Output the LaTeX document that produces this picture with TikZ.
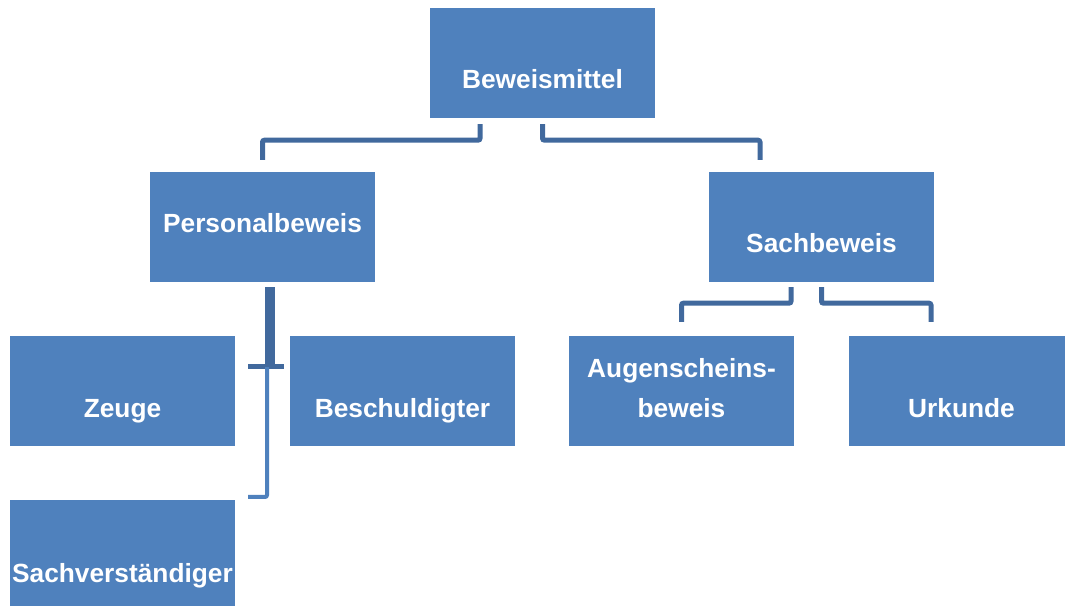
\documentclass[tikz,border=0pt]{standalone}
\usepackage{fontspec}
\setmainfont{Liberation Sans}
\definecolor{boxblue}{HTML}{4F81BD}
\definecolor{lineblue}{HTML}{41699D}

\begin{document}
\begin{tikzpicture}[
        x=1pt, y=1pt,
        every node/.style={fill=boxblue, text=white, font=\fontsize{26.3}{40}\selectfont\bfseries,
            minimum width=225pt, inner sep=0pt, align=center},
        low/.style={text height=82pt, text depth=28pt},
        link/.style={draw=lineblue, line width=5pt, rounded corners=2pt},
    ]
    \useasboundingbox (0,0) rectangle (1065,605);
    \clip (0,0) rectangle (1065,605);
    \node[text height=81pt, text depth=29pt](mittel) at (542.5,542) {Beweismittel};
    \node[text height=61pt, text depth=49pt](personal) at (262.5,378) {Personalbeweis};
    \node[text height=81pt, text depth=29pt](sach) at (821.5,378) {Sachbeweis};
    \node[low](zeuge) at (122.5,214) {Zeuge};
    \node[low](beschuldigter) at (402.5,214) {Beschuldigter};
    \node[low](augenschein) at (681.5,214) {Augenscheins-\\beweis};
    \node[low](urkunde) at (961.5,214) {Urkunde};
    \node[low](sachverst) at (122.5,50) {Sachverständiger};
    % first level
    \draw[link] ([xshift=-62.5pt,yshift=-6pt]mittel.south) -- ++(0,-16) -| ([yshift=12pt]personal.north);
    \draw[link] ([yshift=-6pt]mittel.south) -- ++(0,-16) -| ([xshift=-61.5pt,yshift=12pt]sach.north);
    % Sachbeweis
    \draw[link] ([xshift=-30.5pt,yshift=-5pt]sach.south) -- ++(0,-16) -| ([yshift=14pt]augenschein.north);
    \draw[link] ([yshift=-5pt]sach.south) -- ++(0,-16) -| ([xshift=-30.5pt,yshift=14pt]urkunde.north);
    % Personalbeweis
    \draw[link, line width=10pt] ([xshift=7.5pt,yshift=-5pt]personal.south) -- ++(0,-80);
    \draw[link] ([xshift=13pt,yshift=24pt]zeuge.east) -- ([xshift=-6pt,yshift=24pt]beschuldigter.west);
    \draw[link, draw=boxblue, line width=4pt] ([xshift=4.5pt,yshift=-85pt]personal.south) |- ([xshift=13pt,yshift=58pt]sachverst.east);
\end{tikzpicture}
\end{document}
